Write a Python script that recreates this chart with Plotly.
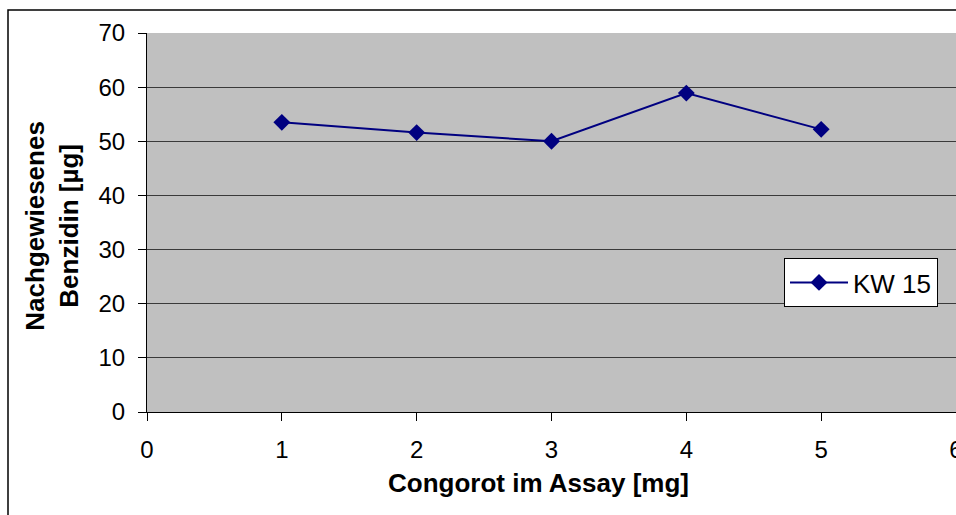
import plotly.graph_objects as go

x_vals = [1, 2, 3, 4, 5]
kw15 = [53.5, 51.6, 50.0, 58.9, 52.2]
series_name = "KW 15"
x_title = "Congorot im Assay [mg]"
y_title_lines = ["Nachgewiesenes", "Benzidin [µg]"]
x_ticks = [0, 1, 2, 3, 4, 5, 6]
y_ticks = [0, 10, 20, 30, 40, 50, 60, 70]

FONT = "Liberation Sans, Arial, sans-serif"
W, H = 956, 515
L, R, T, B = 147, 0, 33, 103
pw = W - L - R
ph = H - T - B

fig = go.Figure()
fig.add_trace(go.Scatter(
    x=x_vals, y=kw15, name=series_name, mode="lines+markers",
    line=dict(color="#000080", width=2),
    marker=dict(symbol="diamond", size=13, color="#000080"),
))

fig.update_layout(
    width=W, height=H,
    margin=dict(l=L, r=R, t=T, b=B, autoexpand=False),
    paper_bgcolor="white", plot_bgcolor="#C0C0C0",
    font=dict(family=FONT, size=24, color="black"),
    showlegend=True,
    legend=dict(x=(784 - L) / pw, y=(412.3 - 258.3) / ph, xanchor="left", yanchor="top",
                bgcolor="white", bordercolor="black", borderwidth=1,
                font=dict(size=26, family=FONT), itemwidth=58),
    xaxis=dict(range=[0, 6], tickvals=x_ticks, showgrid=False, zeroline=False,
               showline=True, linecolor="black", linewidth=1,
               ticks="outside", ticklen=8, tickcolor="black", ticklabelstandoff=8,
               ticklabeloverflow="allow",
               tickfont=dict(size=24), automargin=False),
    yaxis=dict(range=[0, 70], tickvals=y_ticks, showgrid=True, gridcolor="#3a3a3a", gridwidth=1,
               zeroline=False, showline=True, linecolor="black", linewidth=1,
               ticks="outside", ticklen=8, tickcolor="black", ticklabelstandoff=8,
               tickfont=dict(size=24), automargin=False),
)

# x-axis title
fig.add_annotation(text="<b>" + x_title + "</b>", xref="paper", yref="paper",
                   x=(538 - L) / pw, y=(412.3 - 483) / ph, xanchor="center", yanchor="middle",
                   showarrow=False, font=dict(size=26, family=FONT))
# y-axis title (two lines)
for txt, px in zip(y_title_lines, [35, 69]):
    fig.add_annotation(text="<b>" + txt + "</b>", xref="paper", yref="paper",
                       x=(px - L) / pw, y=(412.3 - 226) / ph, xanchor="center", yanchor="middle",
                       textangle=-90, showarrow=False, font=dict(size=26, family=FONT))

# outer chart frame
fig.add_shape(type="rect", xref="paper", yref="paper",
              x0=(8 - L) / pw, x1=1.2, y0=-0.5, y1=1 + (T - 10) / ph,
              line=dict(color="black", width=1.5), fillcolor="rgba(0,0,0,0)", layer="below")

fig.write_html("out.html")
